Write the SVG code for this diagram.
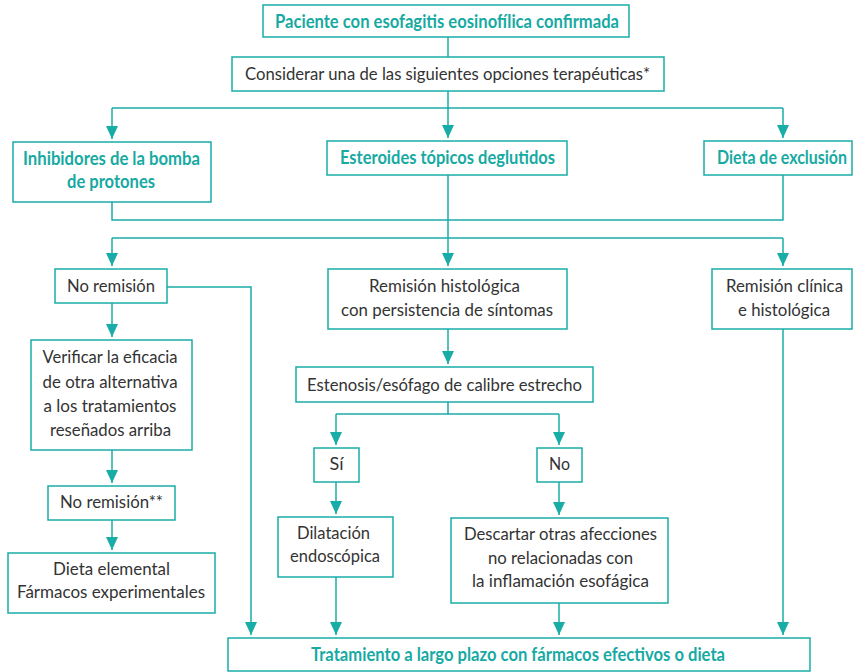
<svg xmlns="http://www.w3.org/2000/svg" width="853" height="672" viewBox="0 0 853 672">
<style>
.box{fill:#fff;stroke:#1aaca6;stroke-width:1.5}
.ln{fill:none;stroke:#1aaca6;stroke-width:1.5}
.arr{fill:none;stroke:#1aaca6;stroke-width:1.5;marker-end:url(#ah)}
text{font-family:Lato,"Open Sans","Noto Sans",sans-serif;font-size:18px;text-anchor:middle}
.t{fill:#17aaa3;font-weight:bold}
.g{fill:#333}
</style>
<defs>
<marker id="ah" markerUnits="userSpaceOnUse" markerWidth="14" markerHeight="12" refX="13" refY="6" orient="auto">
<path d="M0,0 L13,6 L0,12 Z" fill="#1aaca6"/>
</marker>
</defs>
<rect width="853" height="672" fill="#fff"/>
<g id="connectors">
<path class="ln" d="M448,37 V57"/>
<path class="ln" d="M448,91 V108 M112,108 H783"/>
<path class="arr" d="M112,108 V139"/>
<path class="arr" d="M448,108 V138"/>
<path class="arr" d="M783,108 V138"/>
<path class="ln" d="M112,202 V220 H783 V175"/>
<path class="ln" d="M448,175 V238 M112,238 H783"/>
<path class="arr" d="M112,238 V266"/>
<path class="arr" d="M448,238 V266"/>
<path class="arr" d="M783,238 V266"/>
<path class="arr" d="M112,303 V337"/>
<path class="arr" d="M167,287 H251 V635"/>
<path class="arr" d="M112,450 V483"/>
<path class="arr" d="M112,520 V550"/>
<path class="arr" d="M448,329 V364"/>
<path class="ln" d="M448,402 V414 M336,414 H559"/>
<path class="arr" d="M336,414 V445"/>
<path class="arr" d="M559,414 V445"/>
<path class="arr" d="M336,482 V514"/>
<path class="arr" d="M336,577 V635"/>
<path class="arr" d="M559,482 V515"/>
<path class="arr" d="M559,603 V635"/>
<path class="arr" d="M783,329 V635"/>
</g>
<g id="n1"><rect class="box" x="263" y="5" width="366" height="32"/><text class="t" x="447" y="28" textLength="344" lengthAdjust="spacingAndGlyphs">Paciente con esofagitis eosinofílica confirmada</text></g>
<g id="n2"><rect class="box" x="232" y="57" width="432" height="34"/><text class="g" x="447.5" y="80" textLength="405" lengthAdjust="spacingAndGlyphs">Considerar una de las siguientes opciones terapéuticas*</text></g>
<g id="n3"><rect class="box" x="13" y="142" width="198" height="60"/><text class="t" x="111.5" y="165" textLength="177" lengthAdjust="spacingAndGlyphs">Inhibidores de la bomba</text><text class="t" x="111" y="188" textLength="88" lengthAdjust="spacingAndGlyphs">de protones</text></g>
<g id="n4"><rect class="box" x="327" y="141" width="240" height="34"/><text class="t" x="447.5" y="164" textLength="215" lengthAdjust="spacingAndGlyphs">Esteroides tópicos deglutidos</text></g>
<g id="n5"><rect class="box" x="704" y="141" width="148" height="34"/><text class="t" x="782" y="164" textLength="130" lengthAdjust="spacingAndGlyphs">Dieta de exclusión</text></g>
<g id="n6"><rect class="box" x="55" y="269" width="112" height="34"/><text class="g" x="111" y="292" textLength="88" lengthAdjust="spacingAndGlyphs">No remisión</text></g>
<g id="n7"><rect class="box" x="31" y="340" width="161" height="110"/><text class="g" x="110" y="363" textLength="135" lengthAdjust="spacingAndGlyphs">Verificar la eficacia</text><text class="g" x="110" y="388" textLength="135" lengthAdjust="spacingAndGlyphs">de otra alternativa</text><text class="g" x="110" y="412" textLength="133" lengthAdjust="spacingAndGlyphs">a los tratamientos</text><text class="g" x="110.5" y="436" textLength="121" lengthAdjust="spacingAndGlyphs">reseñados arriba</text></g>
<g id="n8"><rect class="box" x="48" y="486" width="127" height="34"/><text class="g" x="111.5" y="508" textLength="103" lengthAdjust="spacingAndGlyphs">No remisión**</text></g>
<g id="n9"><rect class="box" x="8" y="553" width="207" height="60"/><text class="g" x="111.5" y="575" textLength="117" lengthAdjust="spacingAndGlyphs">Dieta elemental</text><text class="g" x="111" y="598" textLength="188" lengthAdjust="spacingAndGlyphs">Fármacos experimentales</text></g>
<g id="n10"><rect class="box" x="328" y="269" width="239" height="60"/><text class="g" x="444.5" y="292" textLength="151" lengthAdjust="spacingAndGlyphs">Remisión histológica</text><text class="g" x="447" y="316" textLength="212" lengthAdjust="spacingAndGlyphs">con persistencia de síntomas</text></g>
<g id="n11"><rect class="box" x="296" y="367" width="297" height="35"/><text class="g" x="444.5" y="391" textLength="275" lengthAdjust="spacingAndGlyphs">Estenosis/esófago de calibre estrecho</text></g>
<g id="n12"><rect class="box" x="712" y="269" width="140" height="60"/><text class="g" x="784.5" y="292" textLength="117" lengthAdjust="spacingAndGlyphs">Remisión clínica</text><text class="g" x="784" y="316" textLength="92" lengthAdjust="spacingAndGlyphs">e histológica</text></g>
<g id="n13"><rect class="box" x="314" y="448" width="45" height="34"/><text class="g" x="336.5" y="470">Sí</text></g>
<g id="n14"><rect class="box" x="537" y="448" width="45" height="34"/><text class="g" x="559.5" y="470" textLength="21" lengthAdjust="spacingAndGlyphs">No</text></g>
<g id="n15"><rect class="box" x="278" y="517" width="115" height="60"/><text class="g" x="333.5" y="539" textLength="73" lengthAdjust="spacingAndGlyphs">Dilatación</text><text class="g" x="335" y="562" textLength="90" lengthAdjust="spacingAndGlyphs">endoscópica</text></g>
<g id="n16"><rect class="box" x="451" y="518" width="217" height="85"/><text class="g" x="560.5" y="540" textLength="193" lengthAdjust="spacingAndGlyphs">Descartar otras afecciones</text><text class="g" x="560.5" y="564" textLength="145" lengthAdjust="spacingAndGlyphs">no relacionadas con</text><text class="g" x="560.5" y="587" textLength="177" lengthAdjust="spacingAndGlyphs">la inflamación esofágica</text></g>
<g id="n17"><rect class="box" x="228" y="638" width="582" height="33"/><text class="t" x="518" y="661" textLength="414" lengthAdjust="spacingAndGlyphs">Tratamiento a largo plazo con fármacos efectivos o dieta</text></g>
</svg>
